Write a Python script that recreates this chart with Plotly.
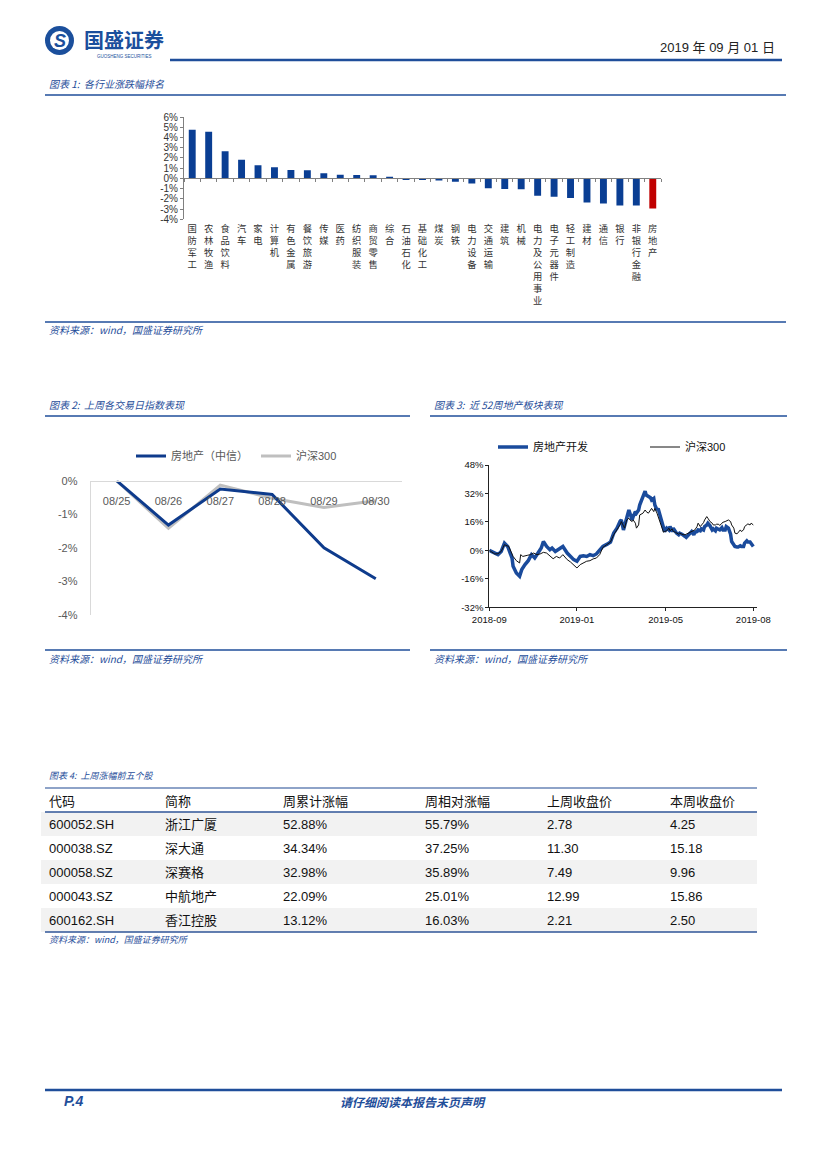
import plotly.graph_objects as go

W, H = 827, 1169


def fx(p):
    return p / W


def fy(p):
    return 1 - p / H


# ---------------- data ----------------
INDUSTRIES = ["国防军工", "农林牧渔", "食品饮料", "汽车", "家电", "计算机", "有色金属", "餐饮旅游",
              "传媒", "医药", "纺织服装", "商贸零售", "综合", "石油石化", "基础化工", "煤炭", "钢铁",
              "电力设备", "交通运输", "建筑", "机械", "电力及公用事业", "电子元器件", "轻工制造",
              "建材", "通信", "银行", "非银行金融", "房地产"]
INDUSTRY_CHG = [4.75, 4.55, 2.65, 1.82, 1.29, 1.09, 0.83, 0.80, 0.50, 0.36, 0.33, 0.30, 0.17,
                -0.07, -0.10, -0.20, -0.33, -0.50, -0.96, -1.03, -1.06, -1.69, -1.79, -1.92,
                -2.35, -2.45, -2.65, -2.65, -2.95]
HIGHLIGHT = "房地产"
BAR_TICKS = [-4, -3, -2, -1, 0, 1, 2, 3, 4, 5, 6]

WEEK_DAYS = ["08/25", "08/26", "08/27", "08/28", "08/29", "08/30"]
RE_WEEK = [0.0, -1.32, -0.25, -0.41, -2.00, -2.92]
HS_WEEK = [0.0, -1.42, -0.13, -0.52, -0.80, -0.60]
WEEK_TICKS = [-4, -3, -2, -1, 0]

RE_DAY = [0, 2, 5, 8, 11, 14, 17, 19, 21, 22, 25, 28, 30, 33, 36, 39, 42, 45, 48, 50, 53, 56, 58,
          61, 64, 68, 72, 75, 78, 81, 84, 87, 90, 93, 96, 99, 102, 105, 109, 112, 115, 118, 121,
          122, 124, 127, 129, 130, 132, 133, 135, 136, 138, 139, 141, 142, 144, 145, 147, 149,
          150, 152, 153, 155, 156, 158, 159, 161, 162, 164, 166, 167, 169, 170, 172, 173, 175,
          176, 178, 179, 181, 182, 184, 186, 187, 189, 190, 192, 193, 195, 196, 198, 199, 201,
          202, 204, 206, 207, 209, 210, 212, 213, 215, 216, 218, 219, 221, 223, 224, 226, 227,
          229, 230, 232, 233, 235, 236, 238, 239, 241, 242, 244]
RE_VAL = [0.0, -0.6, -1.5, -2.4, -0.6, 4.1, 2.2, -0.6, -4.3, -8.9, -12.7, -14.5, -10.8, -8.0,
          -5.8, -2.4, -4.3, -1.5, 1.3, 5.0, 2.2, 0.4, 1.3, -0.6, 0.4, 2.2, -1.5, -3.4, -5.2, -6.1,
          -3.4, -3.0, -3.4, -2.4, -3.0, -2.0, 0.4, 2.2, 3.5, 4.7, 9.7, 12.5, 16.5,
          17.1, 11.5, 18.1, 22.7, 20.9, 17.1, 19.0, 21.8, 20.9, 22.7, 25.5, 29.2, 31.1, 33.3,
          31.1, 30.2, 29.6, 28.3, 29.2, 25.5, 22.7, 23.6, 19.0, 16.2, 11.5, 10.6, 12.5, 11.5,
          13.4, 10.6, 12.5, 10.2, 9.7, 8.8, 9.7, 9.1, 8.8, 7.8, 7.3, 8.8, 10.2, 10.6, 8.8, 10.2,
          10.6, 11.5, 11.0, 12.1, 11.5, 13.4, 14.3, 15.3, 13.8, 11.5, 12.1, 11.0, 12.5, 12.1,
          11.5, 12.8, 11.5, 11.5, 13.4, 12.5, 9.1, 5.0, 3.2, 2.2, 1.9, 1.9, 2.6, 2.2, 2.2, 4.1,
          5.4, 4.7, 4.7, 3.5, 2.2]

HS_DAY = [0, 2, 5, 8, 11, 14, 18, 20, 22, 25, 28, 29, 31, 35, 38, 41, 44, 47, 50, 53, 56, 59,
          62, 65, 68, 72, 75, 78, 81, 84, 87, 90, 93, 96, 99, 102, 105, 109, 112, 115, 118, 121,
          122, 124, 125, 127, 129, 130, 132, 133, 135, 136, 138, 139, 141, 142, 144, 145, 147,
          149, 150, 152, 153, 155, 156, 158, 159, 161, 162, 164, 166, 167, 169, 170, 172, 173,
          175, 176, 178, 179, 181, 182, 184, 186, 187, 189, 190, 192, 193, 195, 196, 198, 199,
          201, 202, 204, 206, 207, 209, 210, 212, 213, 215, 216, 218, 219, 221, 223, 224, 226,
          227, 229, 230, 232, 233, 235, 236, 238, 239, 241, 242, 244]
HS_VAL = [0.0, -0.9, -2.0, -1.9, -0.6, 3.2, 2.2, -0.6, -3.4, -5.8, -7.1, -2.4, -3.4, -2.8, -2.4,
          -1.5, -2.4, -2.0, -1.1, -1.5, -3.4, -4.7, -3.4, -4.3, -2.4, -5.2, -6.5, -8.0, -9.9,
          -8.0, -7.1, -6.1, -5.8, -4.8, -4.3, -2.4, 1.7, 3.2, 4.7, 8.8, 11.5, 14.5,
          16.2, 13.4, 12.5, 17.1, 18.1, 17.1, 16.2, 17.1, 15.3, 12.5, 14.3, 19.9, 20.9, 20.9,
          22.7, 21.8, 20.9, 22.7, 23.6, 21.8, 23.6, 20.9, 19.0, 16.2, 13.4, 10.2, 10.6, 11.0,
          12.5, 11.0, 12.1, 10.6, 10.2, 9.7, 9.1, 9.7, 9.1, 8.8, 8.8, 9.1, 9.7, 10.1, 10.6, 11.0,
          11.5, 13.4, 15.3, 13.4, 14.0, 15.6, 17.1, 19.0, 18.1, 16.2, 15.3, 14.3, 14.3, 14.7,
          14.7, 14.0, 15.3, 15.8, 16.2, 16.6, 17.1, 16.2, 14.3, 12.5, 9.7, 9.3, 10.2, 11.5, 10.6,
          11.5, 13.4, 14.3, 14.9, 14.3, 15.3, 14.3]

YEAR_TICK_POS = [0, 81, 163, 244]
YEAR_TICK_TEXT = ["2018-09", "2019-01", "2019-05", "2019-08"]
YEAR_Y_TICKS = [-32, -16, 0, 16, 32, 48]

TABLE_HEADER = ["代码", "简称", "周累计涨幅", "周相对涨幅", "上周收盘价", "本周收盘价"]
CODES = ["600052.SH", "000038.SZ", "000058.SZ", "000043.SZ", "600162.SH"]
NAMES = ["浙江广厦", "深大通", "深赛格", "中航地产", "香江控股"]
WEEK_CUM = [52.88, 34.34, 32.98, 22.09, 13.12]
WEEK_REL = [55.79, 37.25, 35.89, 25.01, 16.03]
PREV_CLOSE = [2.78, 11.30, 7.49, 12.99, 2.21]
THIS_CLOSE = [4.25, 15.18, 9.96, 15.86, 2.50]

# ---------------- style ----------------
BLUE = "#1F4E9A"
BAR_BLUE = "#0A3E93"
RED = "#C00000"
CJK = "Noto Sans CJK SC"
SANS = "Liberation Sans, Noto Sans CJK SC"
NARROW = "Liberation Sans Narrow, Liberation Sans, Noto Sans CJK SC"


def pct(vals):
    return [f"{v}%" for v in vals]


fig = go.Figure()

# Chart 1 bars
fig.add_trace(go.Bar(
    x=INDUSTRIES, y=INDUSTRY_CHG,
    marker=dict(color=[RED if n == HIGHLIGHT else BAR_BLUE for n in INDUSTRIES], line=dict(width=0)),
    width=0.42, showlegend=False, xaxis="x", yaxis="y"))

# Chart 2 lines (gray drawn first so blue sits on top)
fig.add_trace(go.Scatter(x=WEEK_DAYS, y=HS_WEEK, mode="lines", name="沪深300",
                         line=dict(color="#BFBFBF", width=3), xaxis="x2", yaxis="y2", legend="legend"))
fig.add_trace(go.Scatter(x=WEEK_DAYS, y=RE_WEEK, mode="lines", name="房地产（中信）",
                         line=dict(color="#0E3B8C", width=3), xaxis="x2", yaxis="y2", legend="legend"))

# Chart 3 lines
fig.add_trace(go.Scatter(x=RE_DAY, y=RE_VAL, mode="lines", name="房地产开发",
                         line=dict(color="#1A4B9C", width=3.5), xaxis="x3", yaxis="y3", legend="legend2"))
fig.add_trace(go.Scatter(x=HS_DAY, y=HS_VAL, mode="lines", name="沪深300",
                         line=dict(color="#111111", width=1), xaxis="x3", yaxis="y3", legend="legend2"))

# Table
rows = len(CODES)
fills = ["#F2F2F2" if i % 2 == 0 else "#FFFFFF" for i in range(rows)]
fig.add_trace(go.Table(
    domain=dict(x=[fx(41), fx(757)], y=[fy(932), fy(788)]),
    columnwidth=[116, 118, 142, 122, 123, 95],
    header=dict(values=TABLE_HEADER, align="left", height=23.5,
                fill=dict(color="white"), line=dict(color="white", width=0),
                font=dict(family=NARROW, size=13, color="#111111")),
    cells=dict(values=[CODES, NAMES,
                       [f"{v:.2f}%" for v in WEEK_CUM],
                       [f"{v:.2f}%" for v in WEEK_REL],
                       [f"{v:.2f}" for v in PREV_CLOSE],
                       [f"{v:.2f}" for v in THIS_CLOSE]],
               align="left", height=24,
               fill=dict(color=[fills] * 6), line=dict(color=[fills] * 6, width=0),
               font=dict(family=NARROW, size=13, color="#111111"))))

zero_pos = fy(117) - (fy(117) - fy(219.3)) * 0.6

fig.update_layout(
    width=W, height=H, margin=dict(l=0, r=0, t=0, b=0, autoexpand=False),
    paper_bgcolor="white", plot_bgcolor="white",
    font=dict(family=SANS, size=11, color="#333333"),
    xaxis=dict(domain=[fx(184), fx(661)], anchor="free", position=zero_pos,
               type="category", tickvals=INDUSTRIES,
               ticktext=["<br>".join(n) for n in INDUSTRIES],
               tickson="boundaries", ticks="outside", ticklen=3, tickcolor="#808080",
               showline=True, linecolor="#808080", linewidth=1, showgrid=False,
               ticklabelstandoff=41, tickangle=0,
               tickfont=dict(family=CJK, size=9.3, color="#333333")),
    yaxis=dict(domain=[fy(219.3), fy(117)], anchor="x", range=[-4, 6],
               tickvals=BAR_TICKS, ticktext=pct(BAR_TICKS),
               ticks="outside", ticklen=3, tickcolor="#808080",
               showline=True, linecolor="#808080", showgrid=False, zeroline=False,
               tickfont=dict(family=SANS, size=10, color="#333333")),
    xaxis2=dict(domain=[fx(90.7), fx(401.7)], anchor="free", position=fy(480.7),
                type="category", range=[-0.5, 5.5], showline=True, linecolor="#D9D9D9",
                ticks="", showgrid=False, ticklabelstandoff=10,
                tickfont=dict(family=SANS, size=11, color="#595959")),
    yaxis2=dict(domain=[fy(615), fy(480.7)], anchor="x2", range=[-4, 0],
                tickvals=WEEK_TICKS, ticktext=pct(WEEK_TICKS), showline=True, linecolor="#D9D9D9",
                ticks="", showgrid=False, zeroline=False, ticklabelstandoff=10,
                tickfont=dict(family=SANS, size=11, color="#595959")),
    xaxis3=dict(domain=[fx(489.3), fx(757)], anchor="y3", range=[0, 244 * (757 - 489.3) / (753.3 - 489.3)],
                tickvals=YEAR_TICK_POS, ticktext=YEAR_TICK_TEXT,
                ticks="outside", ticklen=3, tickcolor="#222222",
                showline=True, linecolor="#222222", linewidth=1, showgrid=False, zeroline=False,
                tickfont=dict(family=SANS, size=9.5, color="#111111")),
    yaxis3=dict(domain=[fy(607.3), fy(465)], anchor="x3", range=[-32, 48],
                tickvals=YEAR_Y_TICKS, ticktext=pct(YEAR_Y_TICKS),
                ticks="outside", ticklen=3, tickcolor="#222222",
                showline=True, linecolor="#222222", showgrid=False, zeroline=False,
                tickfont=dict(family=SANS, size=9.5, color="#111111")),
    legend=dict(orientation="h", x=fx(131), y=fy(456), xanchor="left", yanchor="middle",
                bgcolor="rgba(0,0,0,0)", entrywidth=80, entrywidthmode="pixels",
                font=dict(family=SANS, size=11, color="#595959"), traceorder="reversed"),
    legend2=dict(orientation="h", x=fx(493), y=fy(447), xanchor="left", yanchor="middle",
                 bgcolor="rgba(0,0,0,0)", entrywidth=107, entrywidthmode="pixels",
                 font=dict(family=SANS, size=11, color="#111111")),
)

# ---------------- page decorations ----------------
shapes = []


def hline(x0, x1, y, color=BLUE, width=1.5):
    shapes.append(dict(type="line", xref="paper", yref="paper", x0=fx(x0), x1=fx(x1),
                       y0=fy(y), y1=fy(y), line=dict(color=color, width=width)))


hline(170, 782, 60, BLUE, 2.5)
hline(45, 786, 95)
hline(45, 786, 322)
hline(45, 410, 416)
hline(430, 787, 416)
hline(45, 410, 650)
hline(430, 787, 650)
hline(45, 757, 788, "#8EA3C8", 2)
hline(45, 757, 812, "#2F5597", 1.5)
hline(45, 757, 932, "#2F5597", 1.5)
hline(45, 782, 1090, BLUE, 2.5)

# logo ring
shapes.append(dict(type="circle", xref="paper", yref="paper", x0=fx(45), x1=fx(74),
                   y0=fy(55), y1=fy(26), fillcolor="#1B4F9C", line=dict(width=0)))
shapes.append(dict(type="circle", xref="paper", yref="paper", x0=fx(50), x1=fx(69),
                   y0=fy(50), y1=fy(31), fillcolor="white", line=dict(width=0)))

annotations = []


def text(x, y, s, size=10, color=BLUE, xanchor="left", family=CJK):
    annotations.append(dict(x=fx(x), y=fy(y), xref="paper", yref="paper", text=s, showarrow=False,
                            xanchor=xanchor, yanchor="middle",
                            font=dict(family=family, size=size, color=color)))


text(59.5, 41, "<b><i>S</i></b>", 18, "#1B4F9C", "center", "Liberation Sans")
text(124, 39, "<b>国盛证券</b>", 20, "#1B4F9C", "center")
text(124, 56, "GUOSHENG SECURITIES", 4.5, "#1B4F9C", "center", "Liberation Sans")
text(777, 47, "2019 年 09 月 01 日", 13, "#222222", "right", NARROW)

text(47, 83, "<i>图表 1:  各行业涨跌幅排名</i>", 10)
text(47, 330, "<i>资料来源：wind，国盛证券研究所</i>", 10)
text(47, 404, "<i>图表 2:  上周各交易日指数表现</i>", 10)
text(432, 404, "<i>图表 3:  近 52周地产板块表现</i>", 10)
text(47, 658, "<i>资料来源：wind，国盛证券研究所</i>", 10)
text(432, 658, "<i>资料来源：wind，国盛证券研究所</i>", 10)
text(47, 775, "<i>图表 4:  上周涨幅前五个股</i>", 9)
text(47, 940, "<i>资料来源：wind，国盛证券研究所</i>", 9)
text(62, 1101, "<b><i>P.4</i></b>", 14, BLUE, "left", "Liberation Sans")
text(413, 1101, "<b><i>请仔细阅读本报告末页声明</i></b>", 12, BLUE, "center")

fig.update_layout(shapes=shapes, annotations=annotations)

fig.write_html("out.html", config={"displayModeBar": False},
               post_script="document.body.style.margin='0';document.body.style.padding='0';")
